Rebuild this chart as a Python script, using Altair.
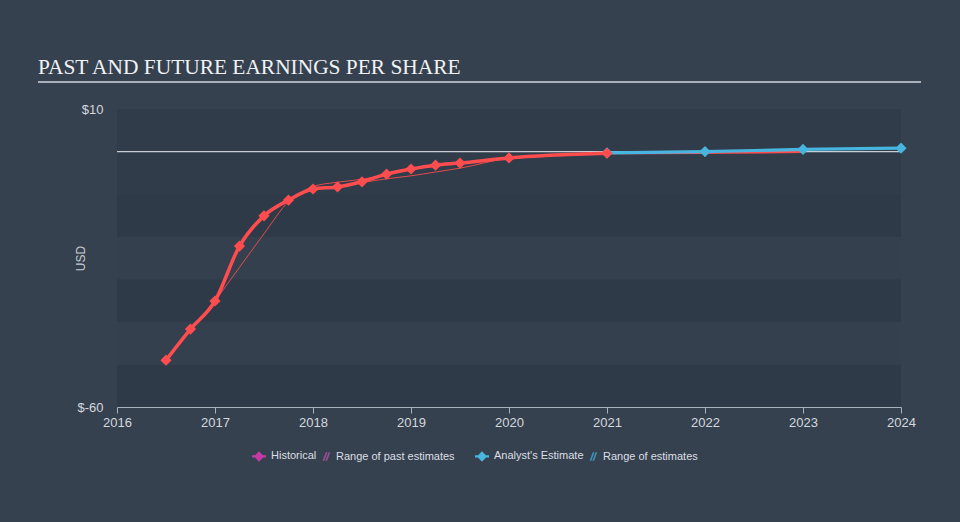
import altair as alt
import pandas as pd

# ---- data ----
hist_years = [2016.5, 2016.75, 2017.0, 2017.25, 2017.5, 2017.75, 2018.0, 2018.25,
              2018.5, 2018.75, 2019.0, 2019.25, 2019.5, 2020.0, 2021.0]
hist_eps = [-49.0, -41.7, -35.1, -22.2, -15.1, -11.4, -8.8, -8.3,
            -7.1, -5.3, -4.1, -3.2, -2.7, -1.5, -0.4]

past_low_years = [2017.0, 2017.25, 2017.5, 2017.75, 2018.0, 2018.25, 2018.5,
                  2018.75, 2019.0, 2019.25, 2019.5, 2020.0, 2021.0]
past_low_eps = [-35.1, -27.2, -19.3, -11.8, -8.8, -8.3, -7.3,
                -6.4, -5.7, -4.8, -3.9, -1.6, -0.5]

past_high_years = [2017.75, 2018.0, 2018.25, 2018.5, 2018.75]
past_high_eps = [-11.4, -8.2, -7.2, -6.5, -5.4]

est_years = [2021.0, 2022.0, 2023.0, 2024.0]
est_eps = [-0.3, 0.0, 0.5, 0.8]

est_low_years = [2021.0, 2022.0, 2023.0]
est_low_eps = [-0.4, -0.3, -0.1]

band_low = [-60, -50, -40, -30, -20, -10, 0]
band_high = [-50, -40, -30, -20, -10, 0, 10]
band_shade = ["dark", "light", "dark", "light", "dark", "mid", "mid"]

past_legend_items = ["Historical", "Range of past estimates"]
past_legend_colors = ["#c63aa5", "#9a4d96"]
est_legend_items = ["Analyst's Estimate", "Range of estimates"]
est_legend_colors = ["#49b6df", "#3f8fb3"]

x_ticks = [2016, 2017, 2018, 2019, 2020, 2021, 2022, 2023, 2024]
y_ticks = [-60, 10]

title_text = "PAST AND FUTURE EARNINGS PER SHARE"

# ---- styling ----
BG = "#35414f"
RED = "#ff4d4f"
BLUE = "#47b5df"
FONT = "Liberation Sans"

hist_df = pd.DataFrame({"year": hist_years, "eps": hist_eps})
plow_df = pd.DataFrame({"year": past_low_years, "eps": past_low_eps})
phigh_df = pd.DataFrame({"year": past_high_years, "eps": past_high_eps})
est_df = pd.DataFrame({"year": est_years, "eps": est_eps})
elow_df = pd.DataFrame({"year": est_low_years, "eps": est_low_eps})
band_df = pd.DataFrame({"lo": band_low, "hi": band_high, "shade": band_shade})

xscale = alt.Scale(domain=[2016, 2024], nice=False, zero=False)
yscale = alt.Scale(domain=[-60, 10], nice=False, zero=False)

x_axis = alt.Axis(values=x_ticks, labelExpr="format(datum.value, 'd')", title=None,
                  grid=False, domainColor="#a9b1bb", tickColor="#a9b1bb", tickSize=6,
                  labelColor="#d4d8de", labelFont=FONT, labelFontSize=13, labelPadding=3,
                  labelFlush=False)
y_axis = alt.Axis(values=y_ticks, labelExpr="'$' + datum.value", title="USD",
                  grid=False, domain=False, ticks=False, labelPadding=14,
                  labelColor="#d4d8de", labelFont=FONT, labelFontSize=13,
                  titleColor="#c8ccd2", titleFont=FONT, titleFontSize=12,
                  titleFontWeight="normal", titleX=-37, titleY=149,
                  titleAlign="center", titleBaseline="middle", labelFlush=False)

bands = alt.Chart(band_df).mark_rect().encode(
    y=alt.Y("lo:Q", scale=yscale, axis=y_axis),
    y2="hi:Q",
    color=alt.Color("shade:N", scale=alt.Scale(domain=["dark", "light", "mid"],
                                               range=["#2f3a48", "#34404e", "#303c4a"]),
                    legend=None),
)

zero = alt.Chart(pd.DataFrame({"v": [0]})).mark_rule(color="#c9cdd2", strokeWidth=1.2).encode(
    y=alt.Y("v:Q", scale=yscale)
)

def line(df, color, width, opacity=1.0):
    return alt.Chart(df).mark_line(color=color, strokeWidth=width, opacity=opacity,
                                   interpolate="monotone").encode(
        x=alt.X("year:Q", scale=xscale, axis=x_axis),
        y=alt.Y("eps:Q", scale=yscale),
    )

def pts(df, color):
    return alt.Chart(df).mark_point(shape="diamond", filled=True, size=125, opacity=1,
                                    color=color).encode(
        x=alt.X("year:Q", scale=xscale),
        y=alt.Y("eps:Q", scale=yscale),
    )

past_low = line(plow_df, RED, 1, 0.85)
past_high = line(phigh_df, RED, 1, 0.85)
est_low = line(elow_df, RED, 2.2)
est_line = line(est_df, BLUE, 3.2)
hist_line = line(hist_df, RED, 3.5)

diamond_line = "M-1,-0.16L1,-0.16L1,0.16L-1,0.16Z M0,-0.75L0.72,0L0,0.75L-0.72,0Z"
hatch = ("M-0.2,0.62L0.25,-0.62L0.5,-0.62L0.05,0.62Z "
         "M0.2,0.62L0.65,-0.62L0.9,-0.62L0.45,0.62Z")


def legend_layer(items, colors, channel, lx):
    leg = alt.Legend(title=None, orient="none", legendX=lx, legendY=340,
                     direction="horizontal", columns=2,
                     symbolSize=196, symbolOpacity=1,
                     labelColor="#dcdfe4", labelFont=FONT, labelFontSize=11,
                     labelOffset=5, columnPadding=0, symbolStrokeWidth=0)
    scale = alt.Scale(domain=items, range=colors)
    enc = {"x": alt.value(-2000), "y": alt.value(-2000),
           "shape": alt.Shape("item:N", scale=alt.Scale(domain=items, range=[diamond_line, hatch]))}
    if channel == "color":
        enc["color"] = alt.Color("item:N", scale=scale, legend=leg)
    else:
        enc["fill"] = alt.Fill("item:N", scale=scale, legend=leg)
    # marks of this layer sit far outside the visible page; only its legend shows
    return alt.Chart(pd.DataFrame({"item": items})).mark_point(filled=True, opacity=1).encode(**enc)


legend_past = legend_layer(past_legend_items, past_legend_colors, "color", 135)
legend_est = legend_layer(est_legend_items, est_legend_colors, "fill", 358)

title = alt.Chart(pd.DataFrame({"t": [title_text]})).mark_text(
    align="left", baseline="alphabetic", font="Liberation Serif", fontSize=21.4,
    color="#f1f2f4").encode(
    text="t:N", x=alt.value(-79), y=alt.value(-35)
)

underline = alt.Chart(pd.DataFrame({"t": [title_text]})).mark_rule(
    color="#a9b0b9", strokeWidth=2).encode(
    x=alt.value(-79), x2=alt.value(804), y=alt.value(-27)
)

chart = alt.layer(
    bands, zero, past_low, past_high, est_low, est_line, pts(est_df, BLUE),
    hist_line, pts(hist_df, RED), legend_past, legend_est, title, underline
).resolve_scale(
    color="independent", shape="independent", fill="independent"
).properties(
    width=784, height=298,
    background=BG,
    padding={"left": 117, "top": 109, "right": 59, "bottom": 115},
    autosize=alt.AutoSizeParams(type="none"),
).configure_view(stroke=None)

chart.save("out.html", embed_options={"renderer": "svg", "actions": False})
